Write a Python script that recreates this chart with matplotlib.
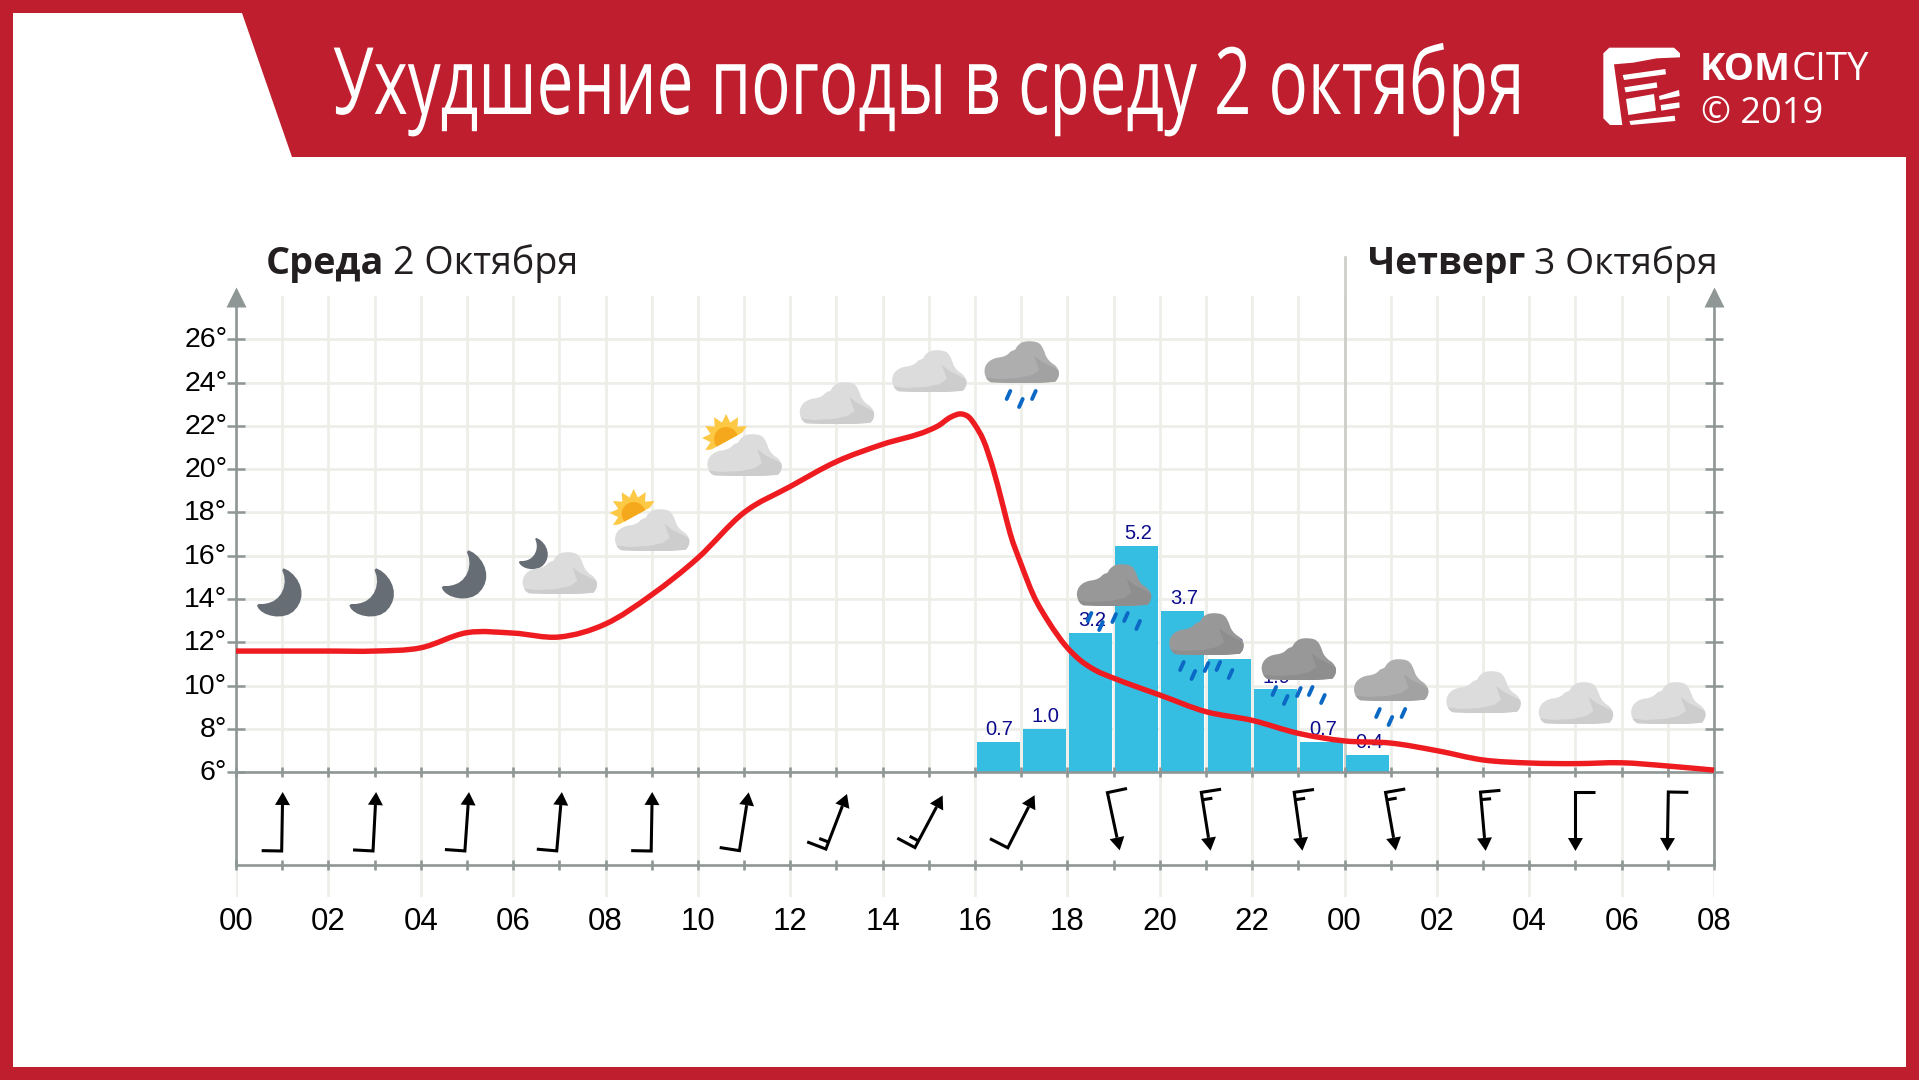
import numpy as np
import matplotlib
matplotlib.use("Agg")
import matplotlib.pyplot as plt
from matplotlib.patches import Polygon, PathPatch
from matplotlib.path import Path
from matplotlib.patheffects import AbstractPathEffect
from matplotlib.transforms import Affine2D, ScaledTranslation

# ---------- data ----------
title_text = "Ухудшение погоды в среду 2 октября"
day1 = ("Среда", "2 Октября")
day2 = ("Четверг", "3 Октября")
hour_labels = ["00","02","04","06","08","10","12","14","16","18","20","22","00","02","04","06","08"]
temp_ticks = [6,8,10,12,14,16,18,20,22,24,26]
temp_hours = [0,1,2,3,4,5,6,7,8,9,10,11,12,13,14,15,15.2,15.47,15.71,15.88,16.0,16.18,16.4,16.61,16.76,17.0,17.26,17.59,17.98,18.27,18.6,19,19.5,20,21,22,23,24,25,26,27,28,29,30,31,32]
temp_vals = [11.6,11.6,11.6,11.6,11.75,12.45,12.43,12.25,12.85,14.2,15.9,18.0,19.2,20.35,21.15,21.8,22.0,22.4,22.55,22.38,22.04,21.35,19.96,18.27,17.04,15.6,14.2,12.96,11.8,11.19,10.72,10.35,9.95,9.57,8.8,8.4,7.8,7.45,7.35,7.0,6.57,6.43,6.4,6.44,6.29,6.1]
prec_hours = [16,17,18,19,20,21,22,23,24]
prec_vals = [0.7,1.0,3.2,5.2,3.7,2.6,1.9,0.7,0.4]
wind_hours = [1,3,5,7,9,11,13,15,17,19,21,23,25,27,29,31]
wind_dir = [1,3,4,5,1,9,21,28,27,168,171,172,170,175,180,181]
wind_half = [0,0,0,0,0,0,1,1,0,0,1,1,1,1,0,0]
icon_hours = wind_hours
icon_kinds = ["moon","moon","moon","mooncloud","suncloud","suncloud","cloud","cloud","rain1","rain2","rain2","rain2","rain1","cloud","cloud","cloud"]

# ---------- layout ----------
W, H = 1919, 1080
X0, X1 = 236.0, 1714.0
Y6, YTOP, YWIND, YLOW = 772.3, 296.0, 865.0, 897.0
PXH = (X1 - X0) / 32
PX_MM = 43.6
icon_top = [567,567,549,553,510,435,383,351,342,565,614,639,660,672,683,683]
RED = "#be1e2d"; GRID = "#eeeee9"; AXC = "#8e9795"; BAR = "#36bee2"; NAVY = "#0b0b8c"

def rect(l, t, r, b):
    return [l/W, 1-b/H, (r-l)/W, (b-t)/H]

class YScale(AbstractPathEffect):
    """Stretch a text vertically about its baseline (display y), which condenses its look."""
    def __init__(self, sy, y0):
        super().__init__()
        self.sy, self.y0 = sy, y0
    def draw_path(self, renderer, gc, tpath, affine, rgbFace=None):
        a = affine + Affine2D().translate(0, -self.y0).scale(1, self.sy).translate(0, self.y0)
        renderer.draw_path(gc, tpath, a, rgbFace)

plt.rcParams["font.family"] = ["Liberation Sans", "DejaVu Sans"]
fig = plt.figure(figsize=(19.19, 10.8), dpi=100, facecolor="white")

bg = fig.add_axes([0,0,1,1], zorder=0); bg.set_xlim(0,W); bg.set_ylim(H,0); bg.axis("off")
bg.add_patch(Polygon([(0,0),(W,0),(W,H),(0,H),(0,0),(13,13),(13,1067),(1906,1067),(1906,157),(292,157),(242,13),(13,13)],
                     closed=True, fc=RED, ec="none"))

# grid axes
ag = fig.add_axes(rect(X0,YTOP,X1,Y6), zorder=1); ag.patch.set_visible(False)
ag.set_xlim(0,32); ag.set_ylim(6,28)
ag.set_xticks(range(0,33)); ag.set_yticks(temp_ticks)
ag.set_yticklabels([f"{t}°" for t in temp_ticks], fontsize=20.5, color="black")
ag.tick_params(axis="x", length=0, labelbottom=False)
ag.tick_params(axis="y", direction="inout", length=12.5, width=1.8, color=AXC, left=True, right=True, pad=0)
ag.grid(True, color=GRID, lw=2.0); ag.set_axisbelow(True)
for s in ["top","bottom"]:
    ag.spines[s].set_visible(False)
for s in ["left","right"]:
    ag.spines[s].set_color(AXC); ag.spines[s].set_linewidth(1.9)
up = ScaledTranslation(0, 1.5/72, fig.dpi_scale_trans)
for lab in ag.get_yticklabels():
    lab.set_transform(lab.get_transform() + up)
ag.plot([0,32],[27.95,27.95], ls="none", marker="^", ms=14, mfc=AXC, mec="none", clip_on=False)
ag.plot([24,24],[6,28.0+1.8], color="#cbcdc7", lw=1.9, clip_on=False, zorder=1.5)

# bars
ap = fig.add_axes(rect(X0,YTOP,X1,Y6), zorder=2); ap.patch.set_visible(False); ap.axis("off")
ap.set_xlim(0,32); ap.set_ylim(0,(Y6-YTOP)/PX_MM)
ap.bar(np.array(prec_hours)+0.5, prec_vals, width=0.93, color=BAR)
for h, v in zip(prec_hours, prec_vals):
    ap.annotate(f"{v:.1f}", (h+0.53, v), xytext=(0,4.8), textcoords="offset points",
                ha="center", va="baseline", fontsize=14.5, color=NAVY)

# wind axes
aw = fig.add_axes(rect(X0,Y6,X1,YLOW), zorder=2.5); aw.patch.set_visible(False)
aw.set_xlim(0,32); aw.set_ylim(YLOW,Y6)
aw.set_xticks(range(0,33,2)); aw.set_xticklabels(hour_labels)
aw.set_xticks(range(1,33,2), minor=True)
aw.set_yticks([])
aw.grid(True, axis="x", which="major", color=GRID, lw=2.0); aw.set_axisbelow(True)
aw.tick_params(axis="x", which="both", direction="inout", length=7, width=1.9, color=AXC, top=True, bottom=True)
aw.tick_params(axis="x", which="major", pad=27, labelsize=22.5)
aw.spines["bottom"].set_position(("data",YWIND))
for s in aw.spines.values():
    s.set_color(AXC); s.set_linewidth(1.9)
aw.spines["left"].set_bounds(Y6,YWIND); aw.spines["right"].set_bounds(Y6,YWIND)
YC = 821.5; L = 59.0; ALW = 2.2
for h, d, hb in zip(wind_hours, wind_dir, wind_half):
    a = np.radians(d)
    ux, uy = np.sin(a), -np.cos(a)          # pixel direction of travel
    lx, ly = uy, -ux                        # left of travel
    cx = X0 + h*PXH
    tip = np.array([cx+ux*L/2, YC+uy*L/2]); tail = np.array([cx-ux*L/2, YC-uy*L/2])
    base = tip - 13*np.array([ux,uy])
    bt = tail + 20*np.array([lx,ly])
    aw.plot([(bt[0]-X0)/PXH,(tail[0]-X0)/PXH,(base[0]-X0)/PXH],[bt[1],tail[1],base[1]], color="black", lw=ALW, solid_joinstyle="miter", solid_capstyle="butt")
    if hb:
        p = tail + 7.5*np.array([ux,uy]); q = p + 10*np.array([lx,ly])
        aw.plot([(p[0]-X0)/PXH,(q[0]-X0)/PXH],[p[1],q[1]], color="black", lw=ALW, solid_capstyle="butt")
    hl = base + 7.5*np.array([lx,ly]); hr = base - 7.5*np.array([lx,ly])
    aw.add_patch(Polygon([((q[0]-X0)/PXH,q[1]) for q in (tip,hl,hr)], closed=True, fc="black", ec="none"))

# temperature line
al = fig.add_axes(rect(X0,YTOP,X1,Y6), zorder=3); al.patch.set_visible(False); al.axis("off")
al.set_xlim(0,32); al.set_ylim(6,28)
xs = np.array(temp_hours, float); ys = np.array(temp_vals, float)
m = np.gradient(ys, xs)
verts = [(xs[0],ys[0])]; codes = [Path.MOVETO]
for i in range(len(xs)-1):
    dh = xs[i+1]-xs[i]
    verts += [(xs[i]+dh/3, ys[i]+m[i]*dh/3), (xs[i+1]-dh/3, ys[i+1]-m[i+1]*dh/3), (xs[i+1],ys[i+1])]
    codes += [Path.CURVE4]*3
al.add_patch(PathPatch(Path(verts,codes), fc="none", ec="#ee1c20", lw=3.9, capstyle="butt", clip_on=False))

# icons & header overlay
ov = fig.add_axes([0,0,1,1], zorder=4); ov.patch.set_visible(False); ov.set_xlim(0,W); ov.set_ylim(H,0); ov.axis("off")

def chaikin(pts, n=2):
    p = np.array(pts, float)
    for _ in range(n):
        q = np.roll(p,-1,axis=0)
        p = np.stack([0.75*p+0.25*q, 0.25*p+0.75*q],axis=1).reshape(-1,2)
    return p

CLOUD = chaikin([(8,41),(3,38),(0,31),(1,24),(5,19),(11,16),(18,15),(23,13),(27,9),(31,8),(33,4),(38,0),(45,-1),(53,0),(57,3),(60,9),(62,15),(66,20),(72,24),(75,30),(74,36),(70,41)],1)
SHADE = [(-2,35),(14,37),(34,36),(48,33),(55,28),(50,14),(58,20),(76,29),(76,43),(-2,43)]
MOON = chaikin([(25,0),(35,5),(43,15),(46,27),(43,38),(35,47),(23,50),(11,48),(3,43),(0,37),(10,37),(20,33),(27,24),(29,12)],1)
CL_COL = {"cloud":("#dcdcdc","#cdcdcd"),"rain1":("#aeaeae","#a2a2a2"),"rain2":("#989898","#8e8e8e")}

def draw_cloud(left, top, key):
    c1, c2 = CL_COL[key]
    ov.add_patch(Polygon(CLOUD+[left,top], closed=True, fc=c1, ec="none", zorder=5))
    sh = ov.add_patch(Polygon(np.array(SHADE)+[left,top], closed=True, fc=c2, ec="none", zorder=5.1))
    sh.set_clip_path(Polygon(CLOUD+[left,top], closed=True, transform=ov.transData))

def draw_moon(left, top, s=1.0, z=5):
    ov.add_patch(Polygon(MOON*s+[left,top], closed=True, fc="#676d75", ec="none", zorder=z))

def draw_drops(left, top, n):
    pts = [(24.3,53),(36.7,61),(49.7,53)] if n==3 else [(13,52),(24.4,61),(37.6,53),(49.4,52),(61.6,60)]
    for x,y in pts:
        ov.plot([left+x-1.8,left+x+1.8],[top+y+4,top+y-4], color="#0b68c4", lw=2.8, solid_capstyle="round", zorder=5.2)

def draw_sun(left, top):
    cx, cy = left+19, top+3
    ang = np.linspace(0,2*np.pi,25)[:-1]
    rr = np.where(np.arange(24)%2==0, 24, 16)
    star = np.c_[cx+rr*np.cos(ang), cy+rr*np.sin(ang)]
    clip = Polygon([(left-2,top+18),(left+40,top-5),(left+40,top-40),(left-40,top-40),(left-40,top+18)], closed=True, transform=ov.transData)
    a = ov.add_patch(Polygon(star, closed=True, fc="#fdc944", ec="none", zorder=4.8)); a.set_clip_path(clip)
    t = np.linspace(0,2*np.pi,40)
    b = ov.add_patch(Polygon(np.c_[cx+12*np.cos(t), cy+1+12*np.sin(t)], closed=True, fc="#f6a81c", ec="none", zorder=4.9)); b.set_clip_path(clip)

for h, kind, top in zip(icon_hours, icon_kinds, icon_top):
    cx = X0 + h*PXH
    if kind == "moon":
        draw_moon(cx-26, top)
    elif kind == "mooncloud":
        draw_moon(cx-41, top-16, 0.65, 4.8)
        draw_cloud(cx-37, top, "cloud")
    elif kind == "suncloud":
        draw_sun(cx-37, top)
        draw_cloud(cx-37, top, "cloud")
    elif kind == "cloud":
        draw_cloud(cx-37, top, "cloud")
    elif kind == "rain1":
        draw_cloud(cx-37, top, "rain1"); draw_drops(cx-37, top, 3)
    else:
        draw_cloud(cx-37, top, "rain2"); draw_drops(cx-37, top, 5)

# texts
r = fig.canvas.get_renderer()
FS_LOOK = 67.0
tt = ov.text(333, 114, title_text, color="white", family=["Open Sans","DejaVu Sans"], fontsize=FS_LOOK, ha="left", va="baseline")
w = tt.get_window_extent(r).width
fs = FS_LOOK*1191/w
tt.set_fontsize(fs)
tt.set_path_effects([YScale(FS_LOOK/fs, H-114)])

HF = ["Open Sans","DejaVu Sans"]
def pair(x, y, a, b, fs):
    t1 = ov.text(x, y, a, family=HF, weight="bold", fontsize=fs, color="#231f20", va="baseline")
    e = t1.get_window_extent(r)
    ov.text(e.x1+9, y, b, family=HF, fontsize=fs, color="#231f20", va="baseline")
pair(266, 274, day1[0], day1[1], 27.2)
pair(1368, 274, day2[0], day2[1], 26.9)

# logo
LF = ["Open Sans","DejaVu Sans"]
k = ov.text(1700, 79.5, "KOM", family=LF, weight="bold", fontsize=27.5, color="white", va="baseline")
ov.text(k.get_window_extent(r).x1+1, 79.5, "CITY", family=LF, fontsize=27.5, color="white", va="baseline")
ov.text(1701, 123, "© 2019", family=LF, fontsize=26, color="white", va="baseline")
def lp(pts, c="white"):
    ov.add_patch(Polygon([(1560+x/3, 20+y/3) for x,y in pts], closed=True, fc=c, ec="none", zorder=6))
lp([(148,83),(342,83),(360,100),(360,112),(290,115),(220,128),(162,133),(187,315),(150,315),(130,295),(130,100)])
lp([(188,165),(316,147),(318,163),(192,180)])
lp([(193,202),(290,187),(292,203),(197,217)])
lp([(198,237),(282,222),(288,272),(205,285)])
lp([(297,228),(357,210),(359,228),(299,240)])
lp([(302,255),(358,247),(359,263),(304,272)])
lp([(208,303),(344,287),(346,303),(212,315)])

fig.savefig("out.png", dpi=100, facecolor="white")
